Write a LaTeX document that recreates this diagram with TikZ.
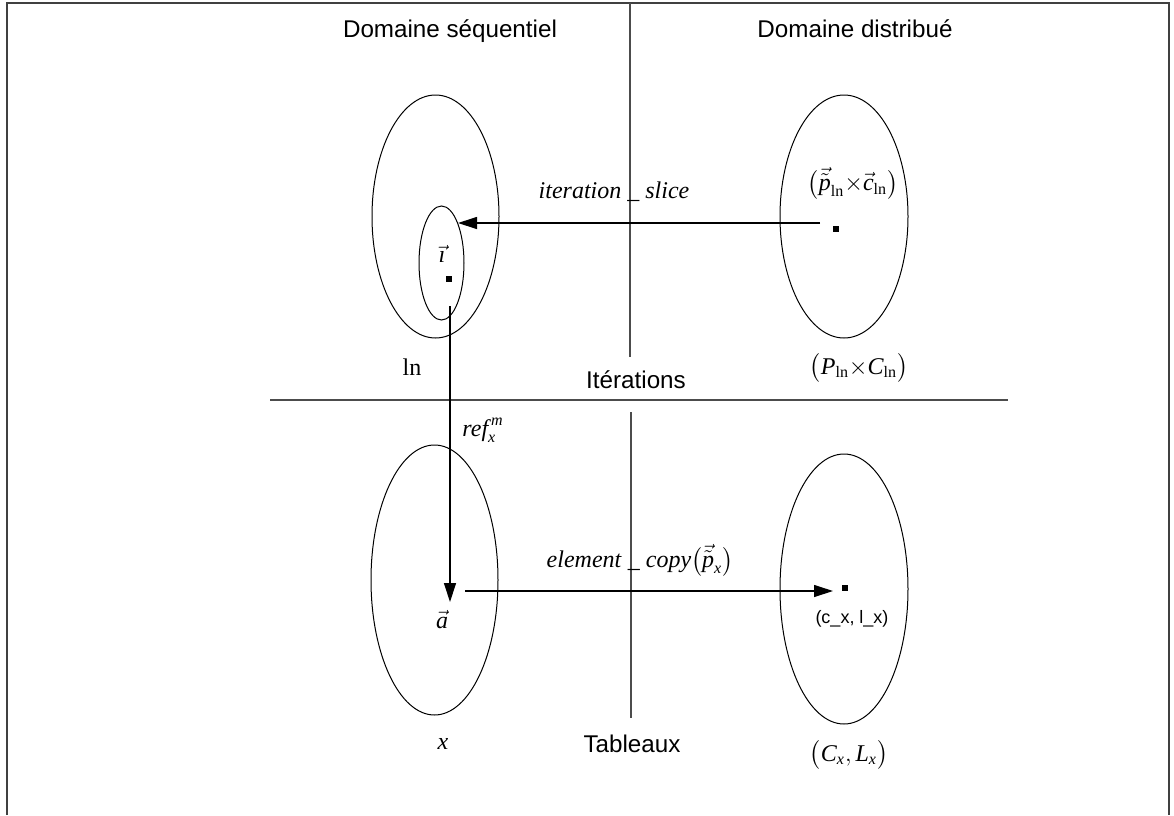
\documentclass[tikz,border=0pt]{standalone}
\usepackage{amsmath}
\usepackage{fontspec}
\setmainfont{Liberation Serif}
\newfontfamily\arial{Liberation Sans}
\usepackage{tikz}
\usetikzlibrary{arrows.meta}

\begin{document}
\begin{tikzpicture}[x=0.5pt, y=-0.5pt,
    frame/.style={black!75, line width=0.6pt},
    sep/.style={black!70, line width=0.6pt},
    set/.style={black, line width=0.5pt},
    map/.style={black, line width=0.6pt, -{Triangle[length=9.5pt, width=6pt]}},
    sq/.style={fill=black, inner sep=0pt, minimum size=3pt},
    title/.style={font=\arial\fontsize{12.1}{14}\selectfont, anchor=base},
    lbl/.style={font=\fontsize{12}{14}\selectfont}]
    \useasboundingbox (0,0) rectangle (1174,815);
    \draw[frame] (7,815) -- (7,3) -- (1169,3) -- (1169,815);
    % separateurs
    \draw[sep] (630,3) -- (630,357);
    \draw[sep] (270,400) -- (1008,400);
    \draw[sep] (631,412) -- (631,718);
    \node[title] (seqT) at (450,37) {Domaine séquentiel};
    \node[title] (distT) at (855,37) {Domaine distribué};
    \node[title] (iterT) at (636,388) {Itérations};
    \node[title] (tabT) at (632,752) {Tableaux};
    % ensembles
    \coordinate (seqIt) at (435.5,216.5);
    \coordinate (subIt) at (441.5,263);
    \coordinate (distIt) at (844,216.5);
    \coordinate (seqTab) at (434.5,580);
    \coordinate (distTab) at (844,589);
    \draw[set] (seqIt) ellipse [x radius=63.5, y radius=121.5];
    \draw[set] (subIt) ellipse [x radius=22.5, y radius=57];
    \draw[set] (distIt) ellipse [x radius=64, y radius=121.5];
    \draw[set] (seqTab) ellipse [x radius=63.5, y radius=135];
    \draw[set] (distTab) ellipse [x radius=64, y radius=135];
    \node[sq] (pcDot) at (836,229) {};
    \node[sq] (iDot) at (449,279) {};
    \node[sq] (clDot) at (845,588) {};
    % fonctions
    \coordinate (sliceFrom) at (820,223);
    \coordinate (sliceTo) at (458,223);
    \coordinate (refFrom) at (450,306);
    \coordinate (refTo) at (450,602);
    \coordinate (copyFrom) at (465,591);
    \coordinate (copyTo) at (833,591);
    \draw[map] (sliceFrom) -- (sliceTo);
    \draw[map] (refFrom) -- (refTo);
    \draw[map] (copyFrom) -- (copyTo);
    \node[lbl] (sliceL) at (614,192) {\textit{iteration} \_ \textit{slice}};
    \node[lbl] (refL) at (483,430) {$\textit{ref}^{\,\textit{m}}_{\textit{x}}$};
    \node[lbl] (copyL) at (640,560) {\textit{element} \_ \textit{copy}$\bigl(\vec{\tilde{\textit{p}}}_{\textit{x}}\bigr)$};
    \node[lbl] (iL) at (442,254) {$\vec{\textit{\i}}$};
    \node[lbl] (aL) at (442,620) {$\vec{\textit{a}}$};
    \node[lbl] (pcL) at (853,183) {$\bigl(\vec{\tilde{\textit{p}}}_{\textrm{ln}}{\times}\vec{\textit{c}}_{\textrm{ln}}\bigr)$};
    \node[lbl] (PCL) at (859,368) {$\bigl(\textit{P}_{\textrm{ln}}{\times}\textit{C}_{\textrm{ln}}\bigr)$};
    \node[lbl] (lnL) at (412,367) {ln};
    \node[lbl] (xL) at (443,744) {\textit{x}};
    \node[lbl] (CLL) at (849,755) {$\bigl(\textit{C}_{\textit{x}},\textit{L}_{\textit{x}}\bigr)$};
    \node[font=\arial\fontsize{9}{11}\selectfont] (clL) at (852,619) {(c\_x, l\_x)};
\end{tikzpicture}
\end{document}
